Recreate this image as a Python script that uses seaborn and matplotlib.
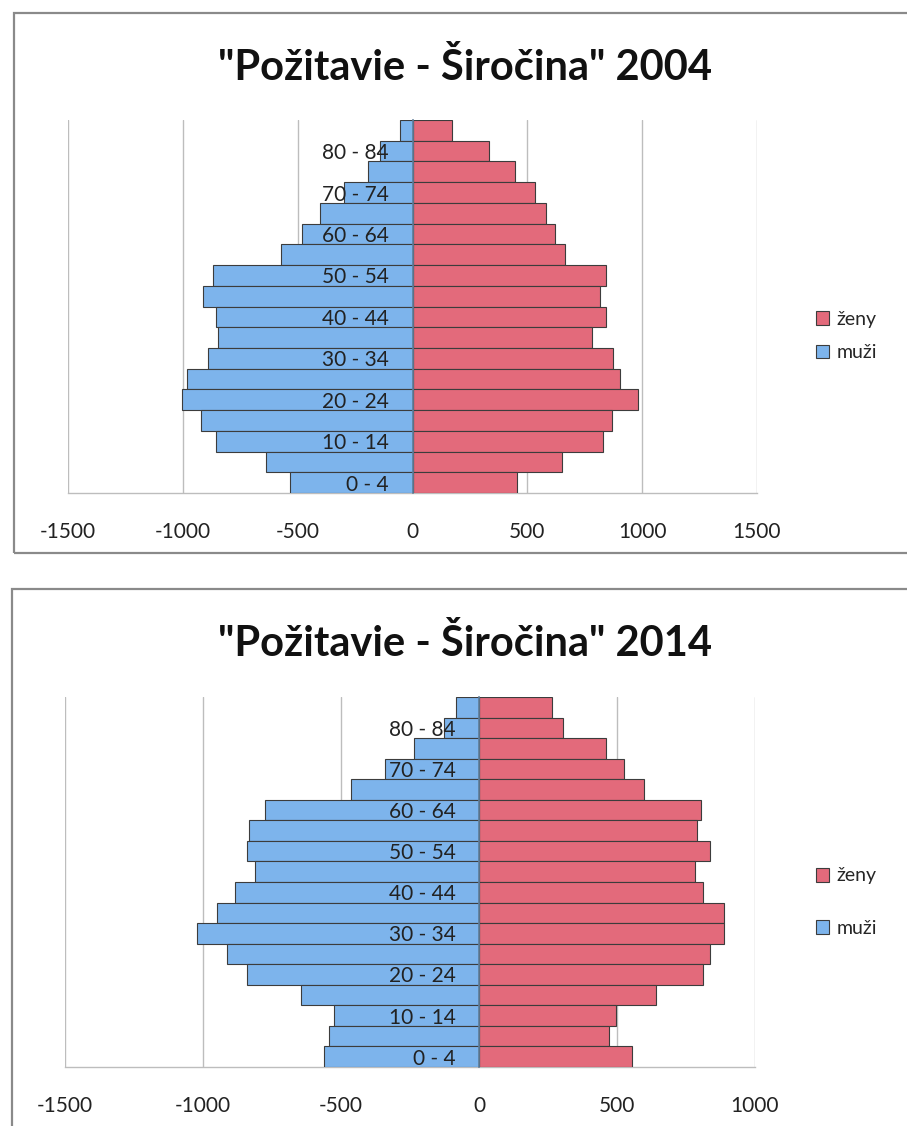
import matplotlib
matplotlib.use("Agg")
import matplotlib.pyplot as plt
from matplotlib.patches import Rectangle
import seaborn as sns
import pandas as pd

# ---------------- data ----------------
ages = ['0 - 4', '5 - 9', '10 - 14', '15 - 19', '20 - 24', '25 - 29', '30 - 34',
        '35 - 39', '40 - 44', '45 - 49', '50 - 54', '55 - 59', '60 - 64',
        '65 - 69', '70 - 74', '75 - 79', '80 - 84', '85+']

muzi_2004 = [532, 636, 855, 923, 1003, 981, 890, 848, 857, 911, 868, 572, 481, 403, 300, 193, 140, 56]
zeny_2004 = [457, 651, 830, 867, 983, 904, 874, 780, 844, 816, 841, 663, 622, 580, 532, 445, 333, 174]

muzi_2014 = [561, 544, 527, 645, 839, 913, 1023, 950, 884, 813, 842, 835, 777, 465, 339, 236, 128, 85]
zeny_2014 = [555, 470, 495, 643, 812, 837, 889, 889, 813, 781, 836, 789, 803, 597, 527, 461, 305, 265]

titles = ['"Požitavie - Širočina" 2004', '"Požitavie - Širočina" 2014']
xticks_2004 = [-1500, -1000, -500, 0, 500, 1000, 1500]
xticks_2014 = [-1500, -1000, -500, 0, 500, 1000]
sex_labels = ['ženy', 'muži']

# ---------------- style ----------------
sns.set_style('white')
plt.rcParams['font.family'] = ['Lato', 'DejaVu Sans']
plt.rcParams['axes.unicode_minus'] = False

COL_Z = '#E36A7B'
COL_M = '#7DB4EC'
GRID = '#BDBDBD'

W, H = 907, 1126
fig = plt.figure(figsize=(W / 100, H / 100), dpi=100)


def px_rect(x0, y0, x1, y1):
    return [x0 / W, 1 - y1 / H, (x1 - x0) / W, (y1 - y0) / H]


# outer frames of the two chart objects
fig.patches.append(Rectangle((14 / W, 1 - 553 / H), 1.2, (553 - 13) / H,
                             transform=fig.transFigure, fill=False,
                             edgecolor='#8a8a8a', linewidth=1.6, zorder=0))
fig.patches.append(Rectangle((12 / W, -0.2), 1.2, 0.2 + 1 - 589 / H,
                             transform=fig.transFigure, fill=False,
                             edgecolor='#8a8a8a', linewidth=1.6, zorder=0))


def pyramid(rect, muzi, zeny, xticks, title, title_y, legend_y, legend_spacing):
    ax = fig.add_axes(rect)
    df = pd.DataFrame({
        'age': ages * 2,
        'value': [-v for v in muzi] + list(zeny),
        'sex': ['muži'] * len(ages) + ['ženy'] * len(ages),
    })
    sns.barplot(data=df, x='value', y='age', hue='sex', order=ages[::-1],
                hue_order=sex_labels, palette={'ženy': COL_Z, 'muži': COL_M},
                dodge=False, width=1.0, orient='h', errorbar=None, saturation=1,
                edgecolor='#3c3c3c', linewidth=0.8, ax=ax, zorder=3)

    ax.set_xlim(xticks[0], xticks[-1])
    ax.set_xticks(xticks)
    ax.set_xticklabels([str(t) for t in xticks])
    order = ages[::-1]
    ax.set_yticks(range(len(order)))
    ax.set_yticklabels([lab if ages.index(lab) % 2 == 0 else '' for lab in order])
    ax.tick_params(axis='x', length=0, pad=21, labelsize=15, labelcolor='#222222')
    ax.tick_params(axis='y', length=0, pad=17, labelsize=15, labelcolor='#222222')
    ax.set_xlabel('')
    ax.set_ylabel('')

    ax.grid(axis='x', color=GRID, linewidth=1.0)
    ax.grid(axis='y', visible=False)
    ax.set_axisbelow(True)
    ax.yaxis.set_zorder(10)
    for s in ['top', 'right']:
        ax.spines[s].set_visible(False)
    ax.spines['bottom'].set_color(GRID)
    ax.spines['bottom'].set_linewidth(1.0)
    ax.spines['left'].set_position(('data', 0))
    ax.spines['left'].set_color('#5f7d99')
    ax.spines['left'].set_linewidth(1.2)
    ax.spines['left'].set_zorder(5)

    leg = ax.get_legend()
    if leg is not None:
        leg.remove()
    handles = [ax.containers[0].patches[0], ax.containers[1].patches[0]]
    fig.legend(handles, sex_labels, loc='center left',
               bbox_to_anchor=(808 / W, 1 - legend_y / H), frameon=False,
               fontsize=14, handlelength=0.7, handleheight=0.7,
               handletextpad=0.35, labelspacing=legend_spacing, borderaxespad=0)

    fig.text(465 / W, 1 - title_y / H, title, ha='center', va='center',
             fontsize=30, fontweight='bold', color='#111111')
    return ax


pyramid(px_rect(68, 120, 757, 493), muzi_2004, zeny_2004, xticks_2004,
        titles[0], 68, 336, 0.85)
pyramid(px_rect(65, 697, 755, 1067), muzi_2014, zeny_2014, xticks_2014,
        titles[1], 643, 902, 1.8)

fig.savefig('out.png', dpi=100)
